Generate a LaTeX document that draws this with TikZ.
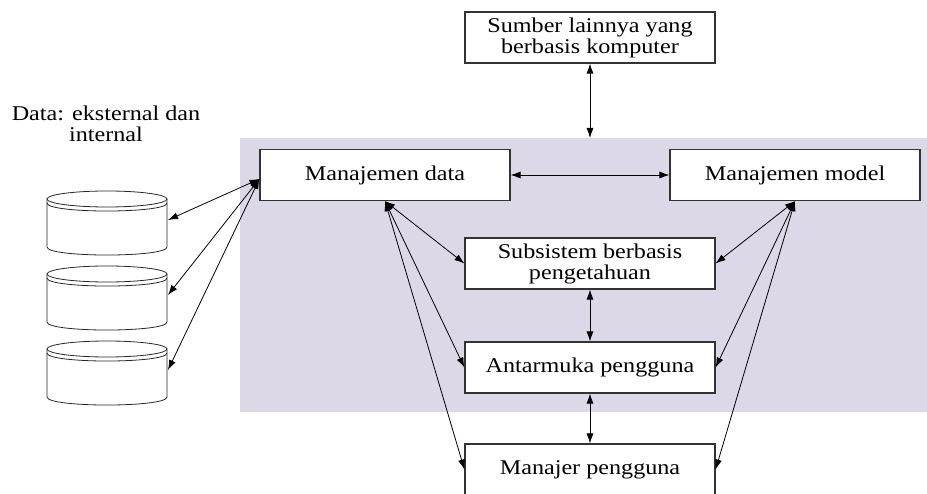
\documentclass[tikz,border=0pt]{standalone}
\usepackage{fontspec}
\setmainfont{Liberation Serif}[FakeStretch=1.15]
\usetikzlibrary{arrows.meta}
\definecolor{panel}{RGB}{221,216,232}
\tikzset{
  box/.style={draw=black!80, line width=1.2pt, fill=white, minimum width=250pt,
    minimum height=51pt, inner sep=0pt, align=center, font=\fontsize{21}{21}\selectfont},
  link/.style={<->, line width=0.8pt},
  drum/.style={draw=black!85, line width=0.8pt, fill=white},
  >={Latex[length=10pt,width=7pt]}
}
\begin{document}
\begin{tikzpicture}[x=1pt,y=-1pt]
    \useasboundingbox (0,0) rectangle (927,494);

    % Background panel
    \fill[panel] (240,138) rectangle (927,412);
    \coordinate (ptop) at (590,138);

    % Boxes
    \node[box] (sumber) at (590,37.5) {Sumber lainnya yang\\berbasis komputer};
    \node[box] (mdata) at (385,175) {Manajemen data};
    \node[box] (mmodel) at (795,175) {Manajemen model};
    \node[box] (subsis) at (590,263.5) {Subsistem berbasis\\pengetahuan};
    \node[box] (antar) at (590,367.5) {Antarmuka pengguna};
    \node[box] (manajer) at (590,469.5) {Manajer pengguna};

    % Data label
    \node[align=center, font=\fontsize{21}{21}\selectfont] (dlabel) at (106,124) {Data: eksternal dan\\internal};

    % Databases
    \foreach \t [count=\i] in {191,266,341} {
        \draw[drum] (47,\t+8) -- (47,\t+56) .. controls (47,\t+66.7) and (167,\t+66.7) .. (167,\t+56) -- (167,\t+8);
        \draw[drum] (107,\t+8) ellipse [x radius=60, y radius=8];
        \draw[black!85, line width=0.8pt] (47,\t+12) .. controls (47,\t+22.7) and (167,\t+22.7) .. (167,\t+12);
        \coordinate (db\i) at (168,\t+29);
    }

    % Connectors
    \coordinate (dbin) at ([yshift=-4pt]mdata.west);
    \foreach \i in {1,2,3}
        \draw[link] (dbin) -- (db\i);
    \draw[link] (sumber) -- (ptop);
    \draw[link] (mdata) -- (mmodel);
    \draw[link] (subsis) -- (antar);
    \draw[link] (antar) -- (manajer);
    \foreach \n in {subsis,antar,manajer} {
        \draw[link] (mdata.south) -- (\n.west);
        \draw[link] (mmodel.south) -- (\n.east);
    }
\end{tikzpicture}
\end{document}
